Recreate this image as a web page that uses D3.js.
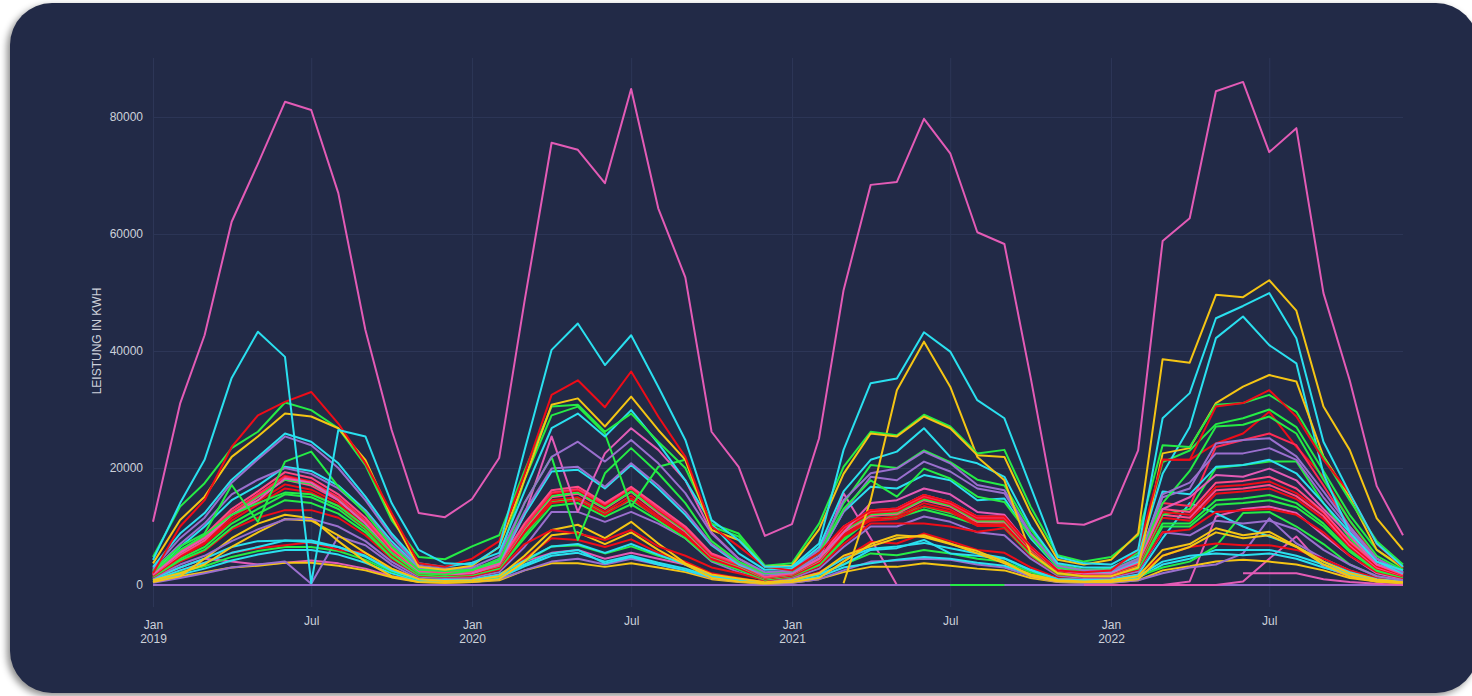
<!DOCTYPE html>
<html><head><meta charset="utf-8">
<script src="https://cdn.jsdelivr.net/npm/d3@7"></script>
<style>
html,body{margin:0;padding:0;background:#ffffff;width:1472px;height:696px;overflow:hidden;}
#card{position:absolute;left:10px;top:3px;width:1468px;height:690px;background:#222a47;border-radius:42px;box-shadow:-3px 3px 7px rgba(0,0,0,0.45);}
svg{position:absolute;left:0;top:0;}
</style></head>
<body>
<div id="card"></div>
<svg id="chart" width="1472" height="696"></svg>
<script>
// Monthly categories
const months = ["2019-01","2019-02","2019-03","2019-04","2019-05","2019-06","2019-07","2019-08","2019-09","2019-10","2019-11","2019-12",
"2020-01","2020-02","2020-03","2020-04","2020-05","2020-06","2020-07","2020-08","2020-09","2020-10","2020-11","2020-12",
"2021-01","2021-02","2021-03","2021-04","2021-05","2021-06","2021-07","2021-08","2021-09","2021-10","2021-11","2021-12",
"2022-01","2022-02","2022-03","2022-04","2022-05","2022-06","2022-07","2022-08","2022-09","2022-10","2022-11","2022-12"];

// Series values in thousand kWh (null = no data)
const s11 = [1.2,3,4.5,4,3.5,3.8,4.2,3.7,2.8,1.5,0.8,0.6, 0.8,1.5,4,5.5,6,4.5,5.5,4.5,3.5,1.8,1,0.5, 0.6,4,15.7,8,0,0,0,0,0,0,0,0, 0,0,0,0.6,11.7,13,13.4,12.3,8.5,5,2,1];
const s31 = [0,0,0,0,0,0,0,0,0,0,0,0, 0,0,0,0,0,0,0,0,0,0,0,0, 0,0,0,0,0,0,0,0,0,0,0,0, 0,0,0,0,0,0,0,0,0,0,0,0];
const s30 = [null,null,null,null,null,null,null,null,null,null,null,null, null,null,null,null,null,null,null,null,null,null,null,null, null,null,null,null,null,null,0,0,0,null,null,null, null,null,null,null,null,null,null,null,null,null,null,null];
const s32 = [null,null,null,null,null,null,null,null,null,null,null,null, null,null,null,null,null,null,null,null,null,null,null,null, null,null,null,null,null,null,null,null,null,null,null,null, null,null,null,null,null,2,2,2,1,0.5,0.2,0];
const s33 = [null,null,null,null,null,null,null,null,null,null,null,null, null,null,null,null,null,null,null,null,null,null,null,null, null,null,null,null,null,null,null,null,null,null,null,0, 0,0,0,0,0,0.6,4.5,8.3,3.1,1.5,0.6,0.3];
const s28 = [0.5,1.5,2.2,3,3.3,3.8,3.8,3.3,2.5,1.3,0.5,0.4, 0.5,0.8,2.5,3.7,3.7,3.1,3.7,3,2.2,1,0.5,0.2, 0.4,1,2.2,3.1,3.1,3.7,3.3,2.8,2.5,1.2,0.5,0.4, 0.4,0.8,2.5,3.2,4,4.3,4,3.5,2.5,1.2,0.6,0.3];
const s27 = [0.4,1.2,2,3,3.5,4,0.2,8.3,6.8,3.5,1,0.5, 0.5,1,2.5,4,4.5,3.5,4.5,3.5,2.5,1.2,0.6,0.3, 0.4,1,2.5,4,4.2,4.5,4.3,3.5,3,1.5,0.5,0.4, 0.4,0.8,2,3,3.5,5.4,11.4,7.1,4.5,2.5,1,0.4];
const s26 = [0.6,1.8,2.8,4.2,5.2,6,6,5.2,3.8,2,0.7,0.6, 0.7,1.2,3.2,5,5.5,4,5,3.8,2.8,1.4,0.8,0.3, 0.6,1.4,3,3.7,4.3,4.8,4.5,3.8,3.3,1.8,0.7,0.6, 0.6,1.2,3.5,4.5,6,6,6,5,3.5,2,0.9,0.5];
const s25 = [0.8,2.2,3.2,4.8,5.8,6.5,6.5,5.8,4.3,2.3,0.9,0.8, 0.9,1.4,4,6.6,6.8,5.4,6.6,5,3.7,1.8,1,0.4, 0.8,1.8,3.5,5.4,5.1,6,5.4,4.5,4,2.2,0.9,0.8, 0.8,1.5,3,4,6.6,12.3,12.5,10,7,3.5,1.5,0.7];
const s24 = [1,2.5,3.8,5.5,6.3,6.8,7.3,6,5.5,2.8,1,0.9, 1,1.8,4.5,8,7.7,6.5,7.8,5.5,4,2,1.2,0.5, 1,2.2,4.5,7.4,7.1,8.8,7.5,6,5.5,3,1.2,0.9, 1,1.8,5,6.5,7.1,6.8,6.8,6,4.5,2.5,1.2,0.7];
const s23 = [0.8,2.5,3.8,5.5,6.5,7.6,7.6,6.5,4.8,2.5,0.9,0.8, 0.9,1.5,3.5,5.4,6,3.7,4.8,3.5,2.5,1.3,0.9,0.4, 0.8,1.8,3.5,6,6.3,7.7,5.4,5,4.5,2.5,1,0.8, 0.8,1.5,4,5,5.4,5.1,5.4,4.5,3,1.8,0.8,0.5];
const s36 = [1,3,4.5,6.5,7.5,7.6,7.3,6.5,5,2.5,1,0.9, 1,1.8,4.2,6.6,7,5.5,7,5.2,3.5,1.6,1,0.4, 0.9,2,4.5,6.2,6.6,7.2,6.3,5.4,4.6,2.6,1,0.9, 1,1.8,8,14,12.3,10,8.3,6.6,4,2.2,1,0.6];
const s38 = [0.5,1.5,4.5,8,10.5,12,11.4,7.5,4,1.5,0.5,0.4, 0.5,1,4,8.5,9,7,9,6,3.5,1.2,0.6,0.3, 0.5,1.2,4,7,8.5,8.2,7,5.8,4,1.5,0.6,0.5, 0.5,1,5,6.5,9,8,8.5,6.5,3.5,1.5,0.6,0.4];
const s21 = [0.8,2,3.5,6.5,9,11.3,11,8.5,5.5,2.8,1,0.7, 0.8,1.5,5,9.4,10.3,8,10.8,7.1,3.7,1.8,1.1,0.5, 0.8,2,5,6.6,8,8.5,7.1,5.4,3.7,1.8,0.8,0.6, 0.8,1.5,6,7,9.7,8.5,9.1,6.6,4,2,0.9,0.5];
const s22 = [1.2,3.5,5,7.5,9.5,11.2,11.3,10,7.5,4,1.4,1.2, 1.3,2.2,6.5,12.5,12.5,10.8,12.5,10.5,8,4,2.2,0.8, 1.2,2.8,6.5,10,10,11.7,10.8,9,8.5,4.5,1.6,1.2, 1.3,2.3,9,8.5,11,10.5,11,9.5,6,3.5,1.5,0.8];
const s20 = [1.3,4,5.8,9.5,11.5,12.8,12.8,11.5,8.5,4.5,1.6,1.4, 1.5,2.6,7,9.4,8.8,7.7,9.4,6.6,5,3,2,0.8, 1.4,3.2,7,10.5,10.5,10.5,10,9.1,9.7,5,1.8,1.4, 1.5,2.6,9,9.5,12.5,12.8,13,12,9,5,2.2,1.2];
const s19 = [1.4,4.2,6,9.8,12.2,14.5,14,12.2,9,4.7,1.7,1.5, 1.7,2.8,8,13.5,14,11.7,13.8,11,8,4.2,2.6,0.9, 1.5,3.4,7.6,11.4,11.5,12.9,11.8,10.3,10,5.2,1.9,1.5, 1.6,2.8,10,10,13.7,14,14.5,13.3,10,5.7,2.4,1.3];
const s18 = [1.5,4.5,6.5,10.5,13,15.5,15,13,9.5,5,1.8,1.6, 1.8,3,8.5,14.2,14.8,12.3,14.5,11.5,8.5,4.5,2.8,1, 1.6,3.6,8,12,12,13.4,12.3,10.8,10.5,5.5,2,1.6, 1.7,3,10.5,10.5,14.5,14.8,15.4,14,10.5,6,2.6,1.4];
const s34 = [1.6,4.8,7,11,13.8,16.5,15.8,13.5,9.8,5.2,2,1.7, 1.9,3.1,9,14,14.5,12,14.8,11.4,8.4,4.4,2.9,1.1, 1.6,3.8,8.3,11,11.3,13.5,12.5,10.1,10.1,5.6,2.1,1.6, 2,4,21.4,21.4,24.2,25.9,29.6,23.6,18.5,11,4.5,2];
const s17 = [1.6,5,7.2,11.5,14.3,17.2,16.3,14,10,5.4,2,1.8, 2,3.2,9.2,14.5,15,12.5,15.3,11.8,8.7,4.6,3,1.1, 1.7,3.9,8.6,11.3,11.7,14,12.9,10.4,10.4,5.8,2.2,1.7, 1.8,3.2,11.5,11,15.6,16,16.5,14.7,11.3,6.5,2.8,1.5];
const s16 = [1.7,5.2,7.6,12,15,18,17,14.5,10.5,5.7,2.2,1.9, 2.1,3.3,9.6,15,15.6,13,15.9,12.3,9.1,4.8,3.2,1.2, 1.8,4.1,9,11.8,12.2,14.5,13.4,10.8,10.8,6,2.3,1.8, 1.9,3.4,12,11.5,16.2,16.5,17.1,15.2,11.8,6.8,3,1.6];
const s37 = [1.9,5.5,8,12.5,15.2,18,17.3,14.8,10.8,5.8,2.2,1.9, 2.1,3.4,9.8,15.2,15.8,13.2,16,12.6,9.3,4.9,3.3,1.2, 1.8,4.2,9.2,12.1,12.4,14.7,13.6,11,11,6.1,2.3,1.8, 2,3.5,12,13,20,20.5,21.1,21.1,14,8,3.5,1.8];
const s15 = [1.8,5.5,8,12.5,15.5,18.7,17.7,15,11,6,2.3,2, 2.2,3.5,10,15.6,16.2,13.5,16.5,12.8,9.5,5,3.4,1.3, 1.9,4.3,9.5,12.3,12.6,15,13.8,11.2,11.2,6.2,2.4,1.9, 2,3.6,12.5,12,16.8,17.1,17.7,15.7,12.3,7.1,3.2,1.7];
const s35 = [1.9,5.6,8.2,12.5,15.5,18.5,17.5,15,11,6,2.3,2, 2.2,3.5,10,15.8,16.4,13.8,16.6,13,9.7,5.2,3.5,1.3, 1.9,4.4,9.8,12.6,12.9,15.2,14,11.5,11.5,6.4,2.5,1.9, 2.1,3.7,14,13.5,23.6,24.8,25.9,23.9,17,10,4,2];
const s14 = [2,5.8,8.5,13,16,19.3,18.3,15.5,11.5,6.3,2.5,2.2, 2.4,3.8,10.5,16.2,16.8,14,16.8,13.4,10,5.4,3.7,1.4, 2,4.5,10,12.8,13.1,15.4,14.2,11.7,11.7,6.6,2.6,2, 2.2,3.8,13,12.5,17.5,17.8,18.5,16.5,12.5,7.5,3.5,1.8];
const s10 = [1.8,5.5,8,12,14.5,18.2,17.5,14.5,10.5,5.5,2.2,1.8, 2,3.5,12,25.4,12.5,22.5,26.8,23.1,17.9,9,4.5,2, 2,4.5,9,14,14.5,16.5,15.5,12.5,12,6.5,2.5,2, 2,4,13,15,18.8,18.5,19.9,17.9,13,8.5,3.5,2];
const s13 = [2.3,6.5,10,14.5,17,20.2,19.5,17,12.8,7.5,3,2.6, 2.6,4,12,19.4,19.7,16.5,20.5,16.5,12,6.8,3.5,1.8, 2.2,5,12.5,16.8,16.5,18.8,17.9,14.5,14.8,8,3,2.2, 2.3,4,16,15.5,20.2,20.5,21.4,19.1,14,9,4,2];
const s12 = [2.5,7,10.5,15.5,18,20,19,16.5,12.5,7,2.8,2.4, 2.8,4.2,12.5,19.9,20.2,16.8,20.8,17,12.5,7,3.8,1.8, 2.2,5,12.5,18.5,17.9,21.1,19.4,16.5,15.7,8.5,3,2.3, 2.4,4.2,15,16.5,24.2,24.8,25.1,22,16,10,4.5,2.2];
const s09 = [2.2,6,8.5,12,14,15.8,15.5,13.5,10,5.5,2,1.8, 2.5,4.5,18,29,30.5,25.9,13.4,20.2,21.4,10,8.3,3.1, 2.4,6,14,20.5,20,23,21,18,17,9.5,3.5,2.6, 2.8,5.5,21,23,27.5,28.5,30,27,19.5,12,6,2.8];
const s08 = [2.6,6.6,8.8,17.1,10.8,21.1,22.8,16.8,12.3,6.6,2.6,2.4, 2.6,4,14,21.9,7.7,19.1,23.4,19.1,14,7.5,4,2, 2.4,5.5,13,17.9,15.1,19.9,18.2,15.1,14.2,8.3,3,2.4, 2.6,4.5,14,19.5,27.1,27.4,28.8,25.9,18,11,5,2.5];
const s07 = [2.8,8,11.5,17.5,21.5,25.4,23.9,20,14.5,8.3,3.3,2.8, 3,5,14,21.9,24.5,21.1,24.8,20.8,15.7,8.8,4.5,2.2, 2.5,6,14.5,19.1,19.9,22.8,20.8,17.1,16.2,8.8,3.3,2.5, 2.5,4.5,15.5,17.5,22.5,22.5,23.4,21.4,15,9.5,4.5,2.2];
const s06 = [3.1,8.8,12.3,18,21.9,25.9,24.5,20.8,15.1,8.8,3.7,3.1, 3.8,5.5,16,26.8,29.3,25.4,29.9,24.2,17.9,10.5,5.4,2.6, 2.8,6.5,16,21.4,22.8,26.8,21.9,20.8,18.5,10,3.7,3, 3,5,19,27,42.2,45.9,41,37.9,19,9,4,2.5];
const s29 = [null,null,null,null,null,null,null,null,null,null,null,null, null,null,null,null,null,null,null,null,null,null,null,null, null,null,0.3,14.5,33.3,41.6,33.9,21.9,17.9,5.4,2,1.5, 1.5,3,22.5,23.4,31.1,33.9,35.9,34.8,22,15,6,3];
const s05 = [4.8,13.4,17.4,23.4,26.2,31.2,29.9,26.8,20.5,11.1,4.8,4.4, 6.6,8.5,19.5,30.5,30.8,26.2,29.3,24.5,20,10.5,8.8,3.3, 3.7,10.5,20.2,26.2,25.6,29.1,27.1,22.5,23.1,13.4,5.1,4, 4.8,8.5,23.9,23.6,30.8,31.1,32.5,29.6,21.9,14.5,7.5,3.5];
const s04 = [3.7,11.1,15.1,21.9,25.4,29.3,28.8,26.8,21.4,11.7,3.1,2.6, 3.3,6.5,18,30.8,31.9,27.1,32.2,26.5,21.4,9.4,7.7,3.1, 3.3,9.5,19,25.9,25.4,28.8,26.8,22.2,21.9,12.3,4.3,3.5, 4.3,8.8,38.6,38,49.6,49.2,52.1,46.9,30.5,23.1,11.4,6];
const s03 = [2,10,14.5,23.6,29,31.3,33,27.6,20.8,12.3,3.7,3.1, 4.5,7.5,19,32.5,35,30.4,36.5,28.8,21.9,10,6.6,3.1, 2.5,5.5,10,12.8,13.1,15.4,14.2,11.7,11.7,6.6,2.5,2.2, 2.5,6,21.4,21.4,30.5,31.1,33.3,28.8,21.4,15.7,7,3];
const s02 = [4.3,14,21.4,35.4,43.3,39,0.3,26.5,25.4,14,6,3.7, 3.5,6.5,23,40.2,44.7,37.6,42.7,33.9,24.8,11.1,7.7,3.1, 3.1,7.1,23.1,34.5,35.3,43.2,39.9,31.6,28.5,16.8,4.8,3.7, 3.5,6,28.5,32.8,45.6,47.7,49.9,42.2,24.5,15.7,7.1,3.1];
const s01 = [10.8,31,42.7,62.1,72,82.6,81.2,67,43.6,26.5,12.3,11.6, 14.7,21.7,48.5,75.6,74.4,68.7,84.8,64.4,52.6,26.2,20.2,8.4, 10.4,25.1,50.4,68.4,68.9,79.7,73.8,60.3,58.3,35.5,10.6,10.3, 12.1,23,58.8,62.7,84.4,86,74,78.1,49.9,35,16.9,8.5];

// Drawing order and colour of each series
const seriesValues = [s11,s31,s30,s32,s33,s28,s27,s26,s25,s24,s23,s36,s38,s21,s22,s20,s19,s18,s34,s17,s16,s37,s15,s35,s14,s10,s13,s12,s09,s08,s07,s06,s29,s05,s04,s03,s02,s01];
const seriesColors = ["#e35bb6","#9a6fce","#25ec45","#e35bb6","#e35bb6","#f5c514","#9a6fce","#2ae0ef","#25ec45","#ee0c18","#2ae0ef","#2ae0ef","#f5c514","#f5c514","#9a6fce","#ee0c18","#25ec45","#25ec45","#ee0c18","#ee0c18","#ff4a86","#25ec45","#ee0c18","#ff2a55","#ff4a86","#e35bb6","#2ae0ef","#9a6fce","#25ec45","#25ec45","#9a6fce","#2ae0ef","#f5c514","#25ec45","#f5c514","#ee0c18","#2ae0ef","#e35bb6"];

// Axis ticks
const yTickValues = [0,20,40,60,80];
const yTickLabels = ["0","20000","40000","60000","80000"];
const xTickMonths = ["2019-01","2019-07","2020-01","2020-07","2021-01","2021-07","2022-01","2022-07"];
const xTickLabels = [["Jan","2019"],["Jul"],["Jan","2020"],["Jul"],["Jan","2021"],["Jul"],["Jan","2022"],["Jul"]];
const yTitle = "LEISTUNG IN KWH";

const parse = d3.timeParse("%Y-%m");
const dates = months.map(parse);
const L = 153, R = 1403, T = 58, B = 607;
const x = d3.scaleTime().domain([dates[0], dates[dates.length-1]]).range([L, R]);
const y = d3.scaleLinear().domain([-3.76, 90.09]).range([B, T]);

const svg = d3.select("#chart");
const font = "'Liberation Sans', Arial, Helvetica, sans-serif";
const textCol = "#cdd1da";
const gridCol = "#2d3657";

// Grid
const gx = svg.append("g").attr("transform", `translate(0,${B})`)
  .call(d3.axisBottom(x).tickValues(xTickMonths.map(parse)).tickSize(-(B - T)).tickFormat(""));
gx.select(".domain").remove();
gx.selectAll("line").attr("stroke", gridCol).attr("stroke-width", 1);

const gy = svg.append("g").attr("transform", `translate(${L},0)`)
  .call(d3.axisLeft(y).tickValues(yTickValues).tickSize(-(R - L)).tickFormat(""));
gy.select(".domain").remove();
gy.selectAll("line").attr("stroke", gridCol).attr("stroke-width", 1);

// Lines
const line = d3.line().defined(d => d.v !== null).x(d => x(d.t)).y(d => y(d.v));
const plot = svg.append("g");
seriesValues.forEach((vals, i) => {
  plot.append("path")
    .datum(vals.map((v, j) => ({t: dates[j], v: v})))
    .attr("fill", "none")
    .attr("stroke", seriesColors[i])
    .attr("stroke-width", 2)
    .attr("stroke-linejoin", "round")
    .attr("d", line);
});

// Y tick labels
const ya = svg.append("g").attr("transform", `translate(${L},0)`)
  .call(d3.axisLeft(y).tickValues(yTickValues).tickSize(0).tickPadding(10).tickFormat((d, i) => yTickLabels[i]));
ya.select(".domain").remove();
ya.selectAll("text").attr("fill", textCol).style("font-family", font).style("font-size", "12px");

// X tick labels
const xa = svg.append("g").attr("transform", `translate(0,${B})`)
  .call(d3.axisBottom(x).tickValues(xTickMonths.map(parse)).tickSize(0).tickFormat(""));
xa.select(".domain").remove();
xa.selectAll(".tick text").each(function(d, i) {
  const t = d3.select(this).attr("dy", null).attr("y", null)
    .attr("fill", textCol).style("font-family", font).style("font-size", "12px");
  const lab = xTickLabels[i];
  if (lab.length === 1) {
    t.append("tspan").attr("x", 0).attr("y", 17.5).text(lab[0]);
  } else {
    t.append("tspan").attr("x", 0).attr("y", 22).text(lab[0]);
    t.append("tspan").attr("x", 0).attr("y", 36).text(lab[1]);
  }
});

// Y title
svg.append("text")
  .attr("transform", `translate(101,341) rotate(-90)`)
  .attr("text-anchor", "middle")
  .attr("fill", textCol).style("font-family", font).style("font-size", "12px")
  .text(yTitle);
</script>
</body></html>
